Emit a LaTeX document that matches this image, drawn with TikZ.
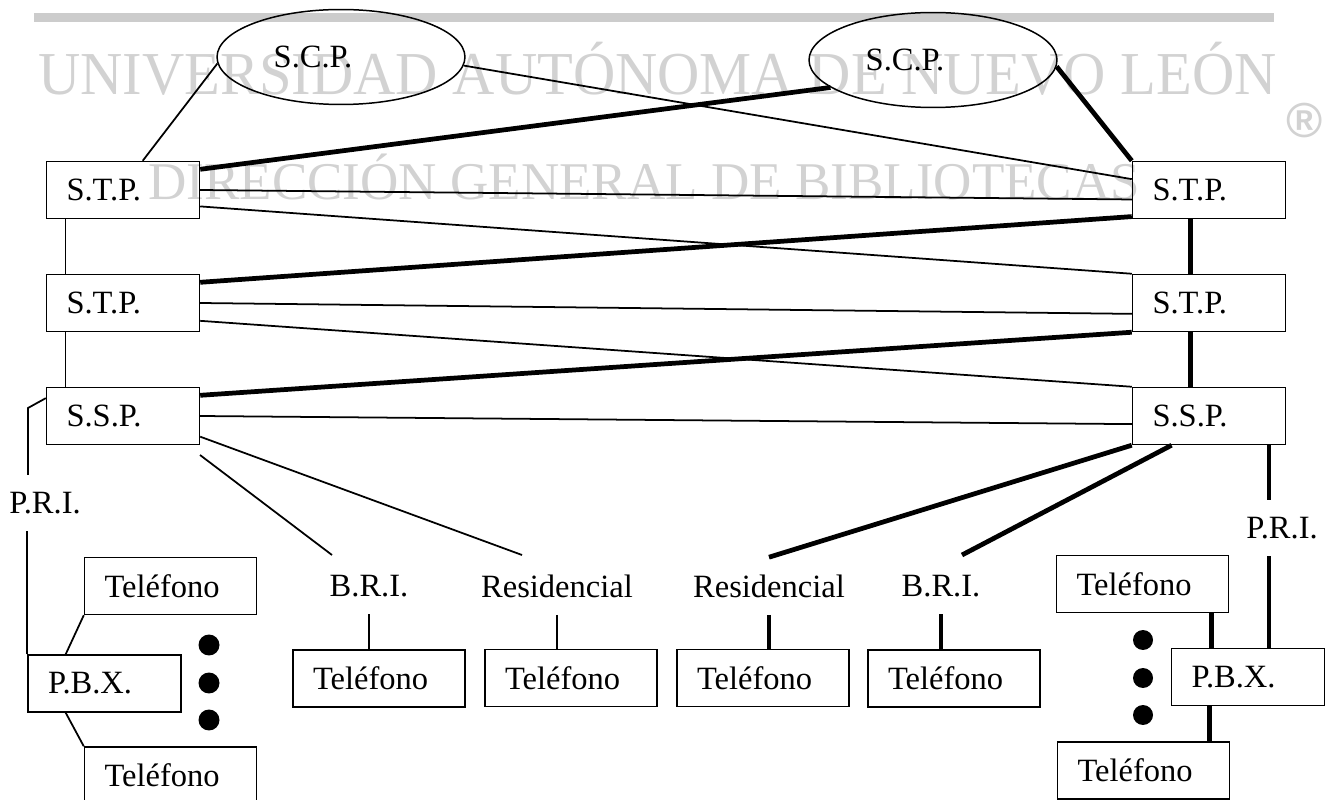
\documentclass[tikz,border=0pt]{standalone}
\usepackage{fontspec}
\setmainfont{Liberation Serif}
\newfontfamily\marcafont{Liberation Sans}
\usetikzlibrary{shapes.geometric,calc}

\begin{document}
\begin{tikzpicture}[x=0.02cm,y=-0.02cm,
  every node/.style={font=\fontsize{18.5}{21}\selectfont},
  sbox/.style={draw,line width=0.85pt,inner xsep=0.4cm,text width=2.26cm,minimum height=1.14cm,align=left},
  tbox/.style={sbox,text width=2.64cm},
  scp/.style={draw,ellipse,line width=0.85pt,inner sep=0pt,minimum width=4.96cm,minimum height=1.9cm},
  lbl/.style={inner xsep=0.1cm,inner ysep=0.34cm},
  link/.style={line width=1pt},
  trunk/.style={line width=2.7pt}]
\useasboundingbox (0,0) rectangle (1326,800);
% marca de agua
\fill[gray!40] (34,13) rectangle (1274,22);
\node[gray!35,anchor=base west,inner sep=0pt,font=\fontsize{34.7}{40}\selectfont] (wm1) at (38,95) {\scalebox{0.96}[1]{UNIVERSIDAD AUTÓNOMA DE NUEVO LEÓN}};
\node[gray!35,anchor=base west,inner sep=0pt,font=\fontsize{30.2}{36}\selectfont] (wm2) at (148,200) {DIRECCIÓN GENERAL DE BIBLIOTECAS};
\node[gray!35,inner sep=0pt,font=\marcafont\bfseries\fontsize{28}{30}\selectfont] (wm3) at (1305,121) {®};
% nodos
\node[scp,label={[xshift=-0.56cm]center:S.C.P.}] (scp1) at (341,57) {};
\node[scp,label={[xshift=-0.56cm]center:S.C.P.}] (scp2) at (933,60) {};
\node[sbox] (stpL1) at (123,190) {S.T.P.};
\node[sbox] (stpL2) at (123,303) {S.T.P.};
\node[sbox] (sspL) at (123,416) {S.S.P.};
\node[sbox] (stpR1) at (1209,190) {S.T.P.};
\node[sbox] (stpR2) at (1209,303) {S.T.P.};
\node[sbox] (sspR) at (1209,416) {S.S.P.};
\node[sbox] (pbxL) at (104.5,683.5) {P.B.X.};
\node[tbox] (telTL) at (170.5,586) {Teléfono};
\node[tbox] (telBL) at (170.5,775.5) {Teléfono};
\node[tbox] (telB1) at (379,678.5) {Teléfono};
\node[tbox] (telR1) at (571,678) {Teléfono};
\node[tbox] (telR2) at (763,678) {Teléfono};
\node[tbox] (telB2) at (954,678.5) {Teléfono};
\node[tbox] (telTR) at (1142.5,584) {Teléfono};
\node[sbox] (pbxR) at (1248,677) {P.B.X.};
\node[tbox] (telBR) at (1143.5,770.5) {Teléfono};
\node[lbl] (priL) at (45,503) {P.R.I.};
\node[lbl] (briL) at (369,586) {B.R.I.};
\node[lbl] (resL) at (557,586) {Residencial};
\node[lbl] (resR) at (769,586) {Residencial};
\node[lbl] (briR) at (941,586) {B.R.I.};
\node[lbl] (priR) at (1282,528) {P.R.I.};
\coordinate (hook) at (28,408);
\coordinate (briLout) at (200,455);
\coordinate (briLin) at (332,555);
\coordinate (resLin) at (522,555);
\coordinate (briRin) at (962,555);
% enlaces
\draw[link] (scp1.183) -- (stpL1.56);
\draw[link] (scp1.-4) -- (stpR1.172);
\draw[trunk] (stpL1.15) -- (scp2.195);
\draw[trunk] (scp2.-3) -- (stpR1.north west);
\draw[link] (stpL1.east) -- (stpR1.187);
\draw[link] (stpL1.-12) -- (stpR2.north west);
\draw[trunk] (stpL2.15) -- (stpR1.199);
\draw[link] (stpL2.east) -- (stpR2.188);
\draw[link] (stpL2.-13) -- (sspR.north west);
\draw[trunk] (sspL.15) -- (stpR2.south west);
\draw[link] (sspL.east) -- (sspR.186);
\draw[link] (sspL.-15) -- (resLin);
\draw[link] (briLout) -- (briLin);
\draw[link] (stpL1.207) -- (stpL2.153);
\draw[link] (stpL2.207) -- (sspL.153);
\draw[trunk] (stpR1.238) -- (stpR2.122);
\draw[trunk] (stpR2.238) -- (sspR.122);
\draw[link] (sspL.167) -- (hook) -- (hook |- priL.north);
\draw[link] (pbxL.north west) -- (pbxL.north west |- priL.south);
\draw[link] (pbxL.143) -- (telTL.south west);
\draw[link] (pbxL.217) -- (telBL.north west);
\draw[link] (briL.south) -- (briL.south |- telB1.north);
\draw[link] (resL.south) -- (resL.south |- telR1.north);
\draw[trunk] (resR.north) -- (sspR.south west);
\draw[trunk] (resR.south) -- (resR.south |- telR2.north);
\draw[trunk] (briRin) -- (sspR.218);
\draw[trunk] (briR.south) -- (briR.south |- telB2.north);
\draw[trunk] (sspR.-26) -- (sspR.-26 |- priR.north);
\draw[trunk] (sspR.-26 |- priR.south) -- (sspR.-26 |- pbxR.north);
\draw[trunk] (telTR.-23) -- (telTR.-23 |- pbxR.north);
\draw[trunk] (pbxR.217) -- (pbxR.217 |- telBR.north);
\foreach \y in {645,683,720} \fill (209,\y) circle (0.21cm);
\foreach \y in {640,678,715} \fill (1143,\y) circle (0.2cm);
\end{tikzpicture}
\end{document}
